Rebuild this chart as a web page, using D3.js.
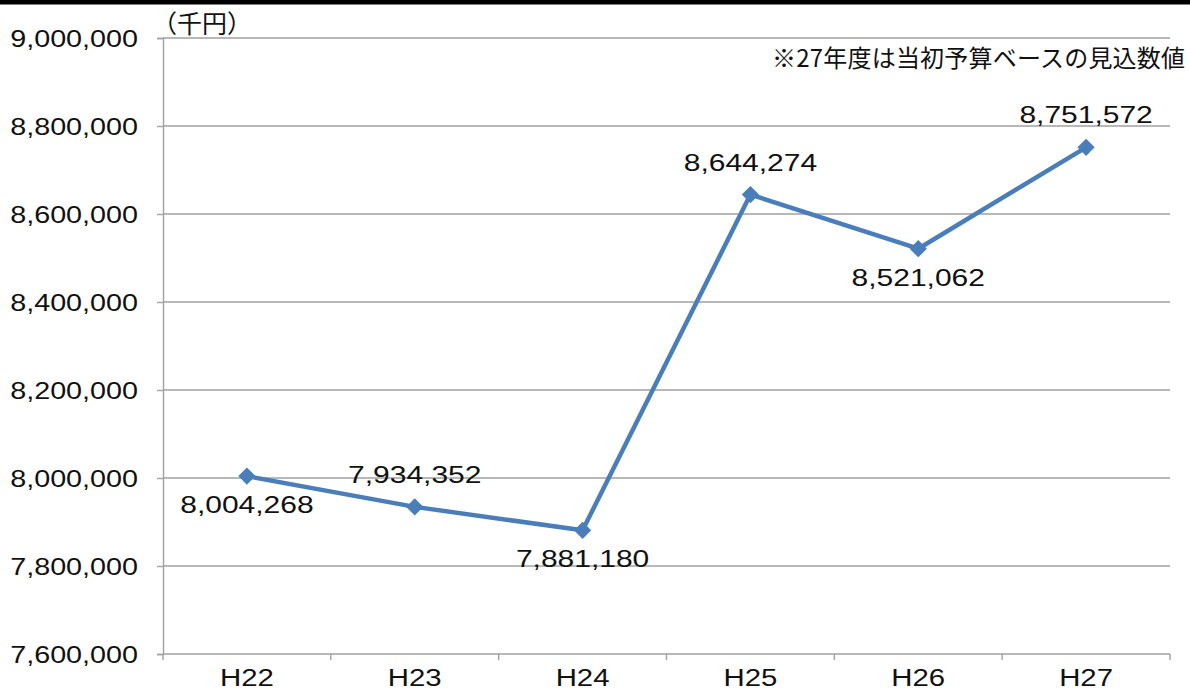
<!DOCTYPE html>
<html>
<head>
<meta charset="utf-8">
<script src="https://cdn.jsdelivr.net/npm/d3@7"></script>
<style>
  body { margin: 0; background: #fff; }
  svg { display: block; }
  .num { font-family: "Liberation Sans", Arial, sans-serif; fill: #111; }
  .jp { font-family: "Noto Sans CJK JP", sans-serif; fill: #111; }
</style>
</head>
<body>
<div id="chart"></div>
<script>
// data
let years = ["H22", "H23", "H24", "H25", "H26", "H27"]
let amounts = [8004268, 7934352, 7881180, 8644274, 8521062, 8751572]
let labelSide = ["below", "above", "below", "above", "below", "above"]
let yTicks = [7600000, 7800000, 8000000, 8200000, 8400000, 8600000, 8800000, 9000000]
let unitText = "（千円）"
let noteText = "※27年度は当初予算ベースの見込数値"

let W = 1190, H = 690
let margin = {top: 38, right: 20, bottom: 36, left: 163}
let sx = 1.25  // the numbers in the original are drawn with a wide font

let svg = d3.select("#chart").append("svg")
  .attr("width", W)
  .attr("height", H)

// black strip at the very top
svg.append("rect")
  .attr("x", 0).attr("y", 0)
  .attr("width", W).attr("height", 4.5)
  .attr("fill", "#000")

let x = d3.scaleBand()
  .domain(years)
  .range([margin.left, W - margin.right])
  .padding(0)

let y = d3.scaleLinear()
  .domain([7600000, 9000000])
  .range([H - margin.bottom, margin.top])

let fmt = d3.format(",")

// gridlines
svg.append("g")
  .selectAll("line")
  .data(yTicks.slice(1))
  .enter()
  .append("line")
    .attr("x1", margin.left)
    .attr("x2", W - margin.right)
    .attr("y1", d => y(d))
    .attr("y2", d => y(d))
    .attr("stroke", "#a0a0a0")
    .attr("stroke-width", 1.4)

// y axis
let yAxis = svg.append("g")
  .attr("transform", "translate(" + margin.left + ",0)")
  .call(d3.axisLeft(y).tickValues(yTicks).tickFormat(fmt).tickSize(6))
yAxis.select(".domain").attr("stroke", "#a0a0a0").attr("stroke-width", 1.4)
yAxis.selectAll(".tick line").attr("stroke", "#a0a0a0").attr("stroke-width", 1.4)
yAxis.selectAll(".tick text")
  .attr("class", "num")
  .style("font-size", "23px")
  .attr("x", -25 / sx)
  .attr("dy", "0.36em")
  .attr("transform", "scale(" + sx + ",1)")
  .attr("fill", "#111")

// x axis: boundary ticks like a category axis
let xAxis = svg.append("g")
  .attr("transform", "translate(0," + (H - margin.bottom) + ")")
xAxis.append("line")
  .attr("x1", margin.left).attr("x2", W - margin.right)
  .attr("y1", 0).attr("y2", 0)
  .attr("stroke", "#a0a0a0").attr("stroke-width", 1.4)
let edges = years.map(d => x(d)).concat([W - margin.right])
xAxis.selectAll(".edge")
  .data(edges)
  .enter()
  .append("line")
    .attr("x1", d => d).attr("x2", d => d)
    .attr("y1", 0).attr("y2", 6)
    .attr("stroke", "#a0a0a0").attr("stroke-width", 1.4)
xAxis.selectAll(".xl")
  .data(years)
  .enter()
  .append("text")
    .attr("class", "num")
    .attr("transform", d => "translate(" + (x(d) + x.bandwidth() / 2) + ",32) scale(" + sx + ",1)")
    .attr("text-anchor", "middle")
    .style("font-size", "23.5px")
    .text(d => d)

// line
let cx = (d, i) => x(years[i]) + x.bandwidth() / 2
let line = d3.line()
  .x((d, i) => cx(d, i))
  .y(d => y(d))

svg.append("path")
  .datum(amounts)
  .attr("d", line)
  .attr("fill", "none")
  .attr("stroke", "#4a7ebb")
  .attr("stroke-width", 4.5)
  .attr("stroke-linejoin", "round")

// diamond markers
svg.selectAll(".mk")
  .data(amounts)
  .enter()
  .append("path")
    .attr("d", d3.symbol().type(d3.symbolDiamond2).size(190))
    .attr("transform", (d, i) => "translate(" + cx(d, i) + "," + y(d) + ")")
    .attr("fill", "#4a7ebb")

// data labels
svg.selectAll(".lbl")
  .data(amounts)
  .enter()
  .append("text")
    .attr("class", "num")
    .attr("transform", (d, i) => {
      let ty = labelSide[i] == "above" ? y(d) - 24 : y(d) + 37
      return "translate(" + cx(d, i) + "," + ty + ") scale(" + sx + ",1)"
    })
    .attr("text-anchor", "middle")
    .style("font-size", "24px")
    .text(d => fmt(d))

// unit label and note
svg.append("text")
  .attr("class", "jp")
  .attr("x", 152)
  .attr("y", 33)
  .style("font-size", "25px")
  .text(unitText)

svg.append("text")
  .attr("class", "jp")
  .attr("x", 772)
  .attr("y", 67)
  .attr("textLength", 413)
  .attr("lengthAdjust", "spacing")
  .style("font-size", "24px")
  .text(noteText)
</script>
</body>
</html>
